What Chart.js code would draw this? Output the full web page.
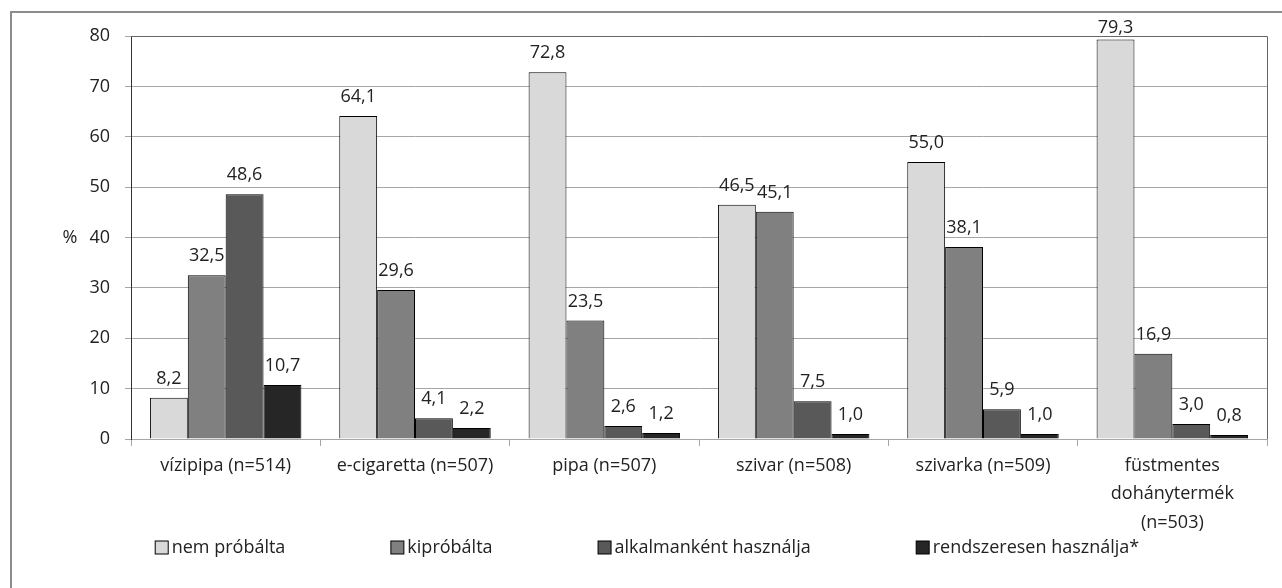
<!DOCTYPE html>
<html lang="hu">
<head>
<meta charset="utf-8">
<title>Dohánytermékek használata</title>
<script src="https://cdn.jsdelivr.net/npm/chart.js"></script>
<style>
    body { margin: 0; background: #fff; }
    #wrap { position: relative; width: 1282px; height: 588px; overflow: hidden; }
    #frame {
        position: absolute; left: 10px; top: 11px; width: 1300px; height: 620px;
        border: 2px solid #8c8c8c; pointer-events: none;
    }
</style>
</head>
<body>
<div id="wrap">
    <canvas id="myChart"></canvas>
    <div id="frame"></div>
</div>
<script>
    const categories = [
        'vízipipa (n=514)', 'e-cigaretta (n=507)', 'pipa (n=507)',
        'szivar (n=508)', 'szivarka (n=509)', ['füstmentes', 'dohánytermék', '(n=503)']
    ];
    const seriesNames = ['nem próbálta', 'kipróbálta', 'alkalmanként használja', 'rendszeresen használja*'];
    const nemProbalta = [8.2, 64.1, 72.8, 46.5, 55.0, 79.3];
    const kiprobalta = [32.5, 29.6, 23.5, 45.1, 38.1, 16.9];
    const alkalmankent = [48.6, 4.1, 2.6, 7.5, 5.9, 3.0];
    const rendszeresen = [10.7, 2.2, 1.2, 1.0, 1.0, 0.8];
    const yTicks = [0, 10, 20, 30, 40, 50, 60, 70, 80];

    const colors = ['#d9d9d9', '#808080', '#595959', '#262626'];
    const FONT = '"Open Sans", Lato, sans-serif';
    const fmt = v => v.toFixed(1).replace('.', ',');

    // value labels above the bars
    const valueLabels = {
        id: 'valueLabels',
        afterDatasetsDraw(chart) {
            const ctx = chart.ctx;
            ctx.save();
            ctx.font = '18px ' + FONT;
            ctx.fillStyle = '#222';
            ctx.textAlign = 'center';
            ctx.textBaseline = 'alphabetic';
            chart.data.datasets.forEach((ds, i) => {
                chart.getDatasetMeta(i).data.forEach((bar, j) => {
                    ctx.fillText(fmt(ds.data[j]), bar.x, Math.max(bar.y - 14, 33));
                });
            });
            ctx.restore();
        }
    };

    // "%" title, plot border and legend
    const extras = {
        id: 'extras',
        afterDraw(chart) {
            const ctx = chart.ctx;
            const area = chart.chartArea;
            const y = chart.scales.y;
            ctx.save();
            ctx.font = '18px ' + FONT;
            ctx.fillStyle = '#222';
            ctx.textAlign = 'center';
            ctx.textBaseline = 'middle';
            ctx.fillText('%', 70, y.getPixelForValue(40));

            ctx.strokeStyle = '#666';
            ctx.lineWidth = 1;
            ctx.beginPath();
            ctx.moveTo(area.left, Math.round(area.top) + 0.5);
            ctx.lineTo(Math.round(area.right) + 0.5, Math.round(area.top) + 0.5);
            ctx.lineTo(Math.round(area.right) + 0.5, area.bottom);
            ctx.stroke();

            // legend
            const gap = 105, box = 13, txtGap = 4;
            ctx.textAlign = 'left';
            const widths = seriesNames.map(n => box + txtGap + ctx.measureText(n).width);
            const total = widths.reduce((a, b) => a + b, 0) + gap * (widths.length - 1);
            let x = chart.width / 2 + 6 - total / 2;
            const ly = 547;
            seriesNames.forEach((n, i) => {
                ctx.fillStyle = colors[i];
                ctx.fillRect(x + 0.5, ly - box / 2 + 0.5, box, box);
                ctx.strokeStyle = '#000';
                ctx.strokeRect(x + 0.5, ly - box / 2 + 0.5, box, box);
                ctx.fillStyle = '#222';
                ctx.fillText(n, x + box + txtGap, ly + 1);
                x += widths[i] + gap;
            });
            ctx.restore();
        }
    };

    const data = {
        labels: categories,
        datasets: [nemProbalta, kiprobalta, alkalmankent, rendszeresen].map((vals, i) => ({
            label: seriesNames[i],
            data: vals,
            backgroundColor: colors[i],
            borderColor: '#000',
            borderWidth: 1,
            borderSkipped: 'bottom',
            categoryPercentage: 0.8,
            barPercentage: 1.0
        }))
    };

    const config = {
        type: 'bar',
        data: data,
        options: {
            responsive: true,
            maintainAspectRatio: false,
            animation: false,
            layout: { padding: { top: 36, right: 15, left: 0, bottom: 0 } },
            scales: {
                x: {
                    grid: {
                        offset: true,
                        drawOnChartArea: false,
                        drawTicks: true,
                        tickLength: 7,
                        color: '#a6a6a6'
                    },
                    border: { color: '#a6a6a6' },
                    ticks: {
                        color: '#222',
                        padding: 5,
                        maxRotation: 0,
                        autoSkip: false,
                        font: { family: FONT, size: 18, lineHeight: 1.6 }
                    },
                    afterFit(scale) { scale.height = 149; }
                },
                y: {
                    min: 0,
                    max: 80,
                    afterBuildTicks(scale) { scale.ticks = yTicks.map(v => ({ value: v })); },
                    grid: {
                        color: '#a6a6a6',
                        tickLength: 6,
                        drawTicks: true
                    },
                    border: { color: '#333' },
                    ticks: {
                        color: '#222',
                        padding: 15,
                        font: { family: FONT, size: 18 }
                    },
                    afterFit(scale) { scale.width = 131; }
                }
            },
            plugins: {
                legend: { display: false },
                tooltip: { enabled: false }
            }
        },
        plugins: [valueLabels, extras]
    };

    const myChart = new Chart(document.getElementById('myChart').getContext('2d'), config);
</script>
</body>
</html>
